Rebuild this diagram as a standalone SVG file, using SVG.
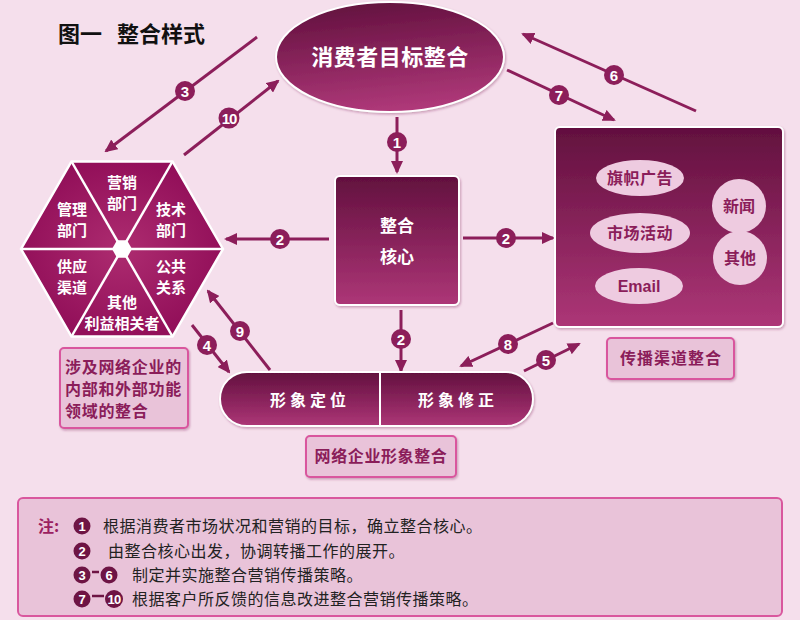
<svg xmlns="http://www.w3.org/2000/svg" width="800" height="620" viewBox="0 0 800 620">
<defs>
<linearGradient id="gv" x1="0" y1="0" x2="0" y2="1">
<stop offset="0" stop-color="#62103e"/>
<stop offset="1" stop-color="#ad3677"/>
</linearGradient>
<linearGradient id="ge" x1="0.3" y1="0" x2="0.5" y2="1">
<stop offset="0" stop-color="#62103e"/>
<stop offset="1" stop-color="#b0397a"/>
</linearGradient>
<radialGradient id="gh" cx="0.5" cy="0.5" r="0.5">
<stop offset="0" stop-color="#ad2c70"/>
<stop offset="1" stop-color="#93105a"/>
</radialGradient>
<marker id="ah" markerUnits="userSpaceOnUse" markerWidth="13" markerHeight="12" refX="11" refY="6" orient="auto">
<path d="M0,0 L13,6 L0,12 z" fill="#8c1e5a"/>
</marker>
<filter id="sh" x="-10%" y="-10%" width="130%" height="130%">
<feDropShadow dx="1" dy="1.5" stdDeviation="1.2" flood-color="#7a2050" flood-opacity="0.35"/>
</filter>
</defs>
<style>
text{font-family:"Noto Sans CJK SC","Liberation Sans",sans-serif;font-weight:bold;}
.w{fill:#ffffff;}
.p{fill:#8b1d5a;}
.c{text-anchor:middle;}
.con{stroke:#8c1e5a;stroke-width:3;fill:none;marker-end:url(#ah);}
.bd circle{fill:#8c1e5a;}
.bd text{fill:#ffffff;font-family:"Liberation Sans",Arial,sans-serif;font-weight:bold;font-size:15px;text-anchor:middle;}
.lb{fill:#e9c3d9;stroke:#d9579e;stroke-width:2;}
.oval{fill:#eecbe0;}
.hx{fill:#ffffff;text-anchor:middle;font-size:15px;}
.note{font-weight:normal;fill:#222;font-size:16px;letter-spacing:0.5px;}
.nb circle{fill:#6e1444;}
.nb text{fill:#fff;font-family:"Liberation Sans",Arial,sans-serif;font-weight:bold;font-size:13px;text-anchor:middle;}
</style>
<rect x="0" y="0" width="800" height="620" fill="#f5dfec"/>

<g id="title">
<text x="58" y="42" font-size="22" fill="#111">图一</text>
<text x="117" y="42" font-size="22" fill="#111">整合样式</text>
</g>

<g id="connectors">
<line class="con" x1="257" y1="37" x2="106" y2="151"/>
<line class="con" x1="184" y1="155" x2="278" y2="81"/>
<line class="con" x1="696" y1="111" x2="523" y2="34"/>
<line class="con" x1="507" y1="70" x2="614" y2="120"/>
<line class="con" x1="397" y1="117" x2="397" y2="172"/>
<line class="con" x1="329" y1="239" x2="226" y2="239"/>
<line class="con" x1="463" y1="238" x2="553" y2="238"/>
<line class="con" x1="401" y1="310" x2="401" y2="371"/>
<line class="con" x1="553" y1="323" x2="461" y2="366"/>
<line class="con" x1="524" y1="371" x2="579" y2="344"/>
<line class="con" x1="192" y1="325" x2="229" y2="372"/>
<line class="con" x1="270" y1="370" x2="208" y2="291"/>
<g class="bd">
<circle cx="185" cy="91" r="10"/><text x="185" y="96.5">3</text>
<circle cx="229" cy="118" r="10.5"/><text x="229" y="123.5" font-size="14" letter-spacing="-1">10</text>
<circle cx="614" cy="75" r="10"/><text x="614" y="80.5">6</text>
<circle cx="559" cy="95" r="10"/><text x="559" y="100.5">7</text>
<circle cx="397" cy="142" r="10"/><text x="397" y="147.5">1</text>
<circle cx="280" cy="239" r="10"/><text x="280" y="244.5">2</text>
<circle cx="506" cy="238" r="10"/><text x="506" y="243.5">2</text>
<circle cx="401" cy="339" r="10"/><text x="401" y="344.5">2</text>
<circle cx="508" cy="344" r="10"/><text x="508" y="349.5">8</text>
<circle cx="546" cy="360" r="10"/><text x="546" y="365.5">5</text>
<circle cx="207" cy="345" r="10"/><text x="207" y="350.5">4</text>
<circle cx="240" cy="331" r="10"/><text x="240" y="336.5">9</text>
</g>
</g>

<g id="consumer-goal">
<ellipse cx="390" cy="57" rx="114" ry="55" fill="url(#ge)" stroke="#fff" stroke-width="2" filter="url(#sh)"/>
<text class="w c" x="390" y="65" font-size="22" letter-spacing="0.5">消费者目标整合</text>
</g>

<g id="core">
<rect x="335" y="176" width="124" height="129" rx="5" fill="url(#gv)" stroke="#fff" stroke-width="2" filter="url(#sh)"/>
<text class="w c" x="397" y="232" font-size="17">整合</text>
<text class="w c" x="397" y="263" font-size="17">核心</text>
</g>

<g id="departments">
<polygon points="223,249 172.5,161.5 71.5,161.5 21,249 71.5,336.5 172.5,336.5" fill="url(#gh)" stroke="#fff" stroke-width="2.5"/>
<g stroke="#fff" stroke-width="2.5">
<line x1="21" y1="249" x2="223" y2="249"/>
<line x1="71.5" y1="161.5" x2="172.5" y2="336.5"/>
<line x1="172.5" y1="161.5" x2="71.5" y2="336.5"/>
</g>
<polygon points="132,249 127,240.3 117,240.3 112,249 117,257.7 127,257.7" fill="#fff"/>
<text class="hx" x="122" y="188">营销</text>
<text class="hx" x="122" y="209">部门</text>
<text class="hx" x="171" y="215">技术</text>
<text class="hx" x="171" y="236">部门</text>
<text class="hx" x="72" y="215">管理</text>
<text class="hx" x="72" y="236">部门</text>
<text class="hx" x="72" y="272">供应</text>
<text class="hx" x="72" y="293">渠道</text>
<text class="hx" x="171" y="272">公共</text>
<text class="hx" x="171" y="293">关系</text>
<text class="hx" x="122" y="308">其他</text>
<text class="hx" x="122" y="329" font-size="14.5">利益相关者</text>
</g>

<g id="dept-label">
<rect class="lb" x="60" y="348" width="128" height="80" rx="4" filter="url(#sh)"/>
<text class="p" x="65" y="373" font-size="16" letter-spacing="0.7">涉及网络企业的</text>
<text class="p" x="65" y="395" font-size="16" letter-spacing="0.7">内部和外部功能</text>
<text class="p" x="65" y="417" font-size="16" letter-spacing="0.7">领域的整合</text>
</g>

<g id="channels">
<rect x="555" y="127" width="228" height="200" rx="5" fill="url(#gv)" stroke="#fff" stroke-width="2" filter="url(#sh)"/>
<ellipse class="oval" cx="640" cy="178" rx="44" ry="18"/>
<text class="p c" x="640" y="184" font-size="16" letter-spacing="0.5">旗帜广告</text>
<ellipse class="oval" cx="640" cy="233" rx="50" ry="20"/>
<text class="p c" x="640" y="239" font-size="16" letter-spacing="0.5">市场活动</text>
<ellipse class="oval" cx="639" cy="286" rx="44" ry="18"/>
<text class="p c" x="639" y="292" font-size="16" style="font-family:'Liberation Sans',Arial,sans-serif">Email</text>
<circle class="oval" cx="739" cy="206" r="27"/>
<circle class="oval" cx="740" cy="258" r="27"/>
<text class="p c" x="739" y="212" font-size="16">新闻</text>
<text class="p c" x="740" y="264" font-size="16">其他</text>
</g>

<g id="channels-label">
<rect class="lb" x="607" y="338" width="127" height="41" rx="4" filter="url(#sh)"/>
<text class="p c" x="671" y="364" font-size="16" letter-spacing="1">传播渠道整合</text>
</g>

<g id="image">
<path d="M247,372 H506 A27,27 0 0 1 506,426 H247 A27,27 0 0 1 247,372 Z" fill="url(#gv)" stroke="#fff" stroke-width="2" filter="url(#sh)"/>
<line x1="380" y1="372" x2="380" y2="426" stroke="#fff" stroke-width="2"/>
<text class="w c" x="310" y="406" font-size="16" letter-spacing="4">形象定位</text>
<text class="w c" x="458" y="406" font-size="16" letter-spacing="4">形象修正</text>
</g>

<g id="image-label">
<rect class="lb" x="306" y="436" width="150" height="41" rx="4" filter="url(#sh)"/>
<text class="p c" x="381" y="462" font-size="16" letter-spacing="0.6">网络企业形象整合</text>
</g>

<g id="notes">
<rect class="lb" x="18" y="498" width="764" height="118" rx="5"/>
<text x="38" y="532" font-size="16" fill="#9b2060">注:</text>
<g class="nb">
<circle cx="82" cy="526" r="8.5"/><text x="82" y="530.5">1</text>
<circle cx="82" cy="551" r="8.5"/><text x="82" y="555.5">2</text>
<circle cx="82" cy="575" r="8.5"/><text x="82" y="579.5">3</text>
<circle cx="109" cy="575" r="8.5"/><text x="109" y="579.5">6</text>
<circle cx="82" cy="599" r="8.5"/><text x="82" y="603.5">7</text>
<circle cx="114" cy="599" r="9"/><text x="114" y="603.5" font-size="12" letter-spacing="-0.8">10</text>
</g>
<line x1="92" y1="572" x2="99" y2="572" stroke="#6e1444" stroke-width="2.5"/>
<line x1="92" y1="596" x2="104" y2="596" stroke="#6e1444" stroke-width="2.5"/>
<text class="note" x="103" y="532">根据消费者市场状况和营销的目标，确立整合核心。</text>
<text class="note" x="108" y="557">由整合核心出发，协调转播工作的展开。</text>
<text class="note" x="132" y="581">制定并实施整合营销传播策略。</text>
<text class="note" x="132" y="605">根据客户所反馈的信息改进整合营销传播策略。</text>
</g>
</svg>
